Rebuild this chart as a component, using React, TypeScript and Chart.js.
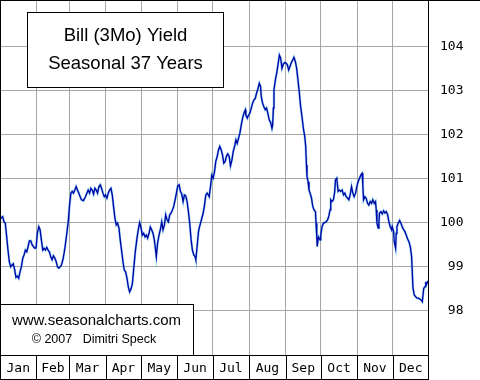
import React, { useEffect, useRef } from "react";
import { Chart, registerables } from "chart.js";

Chart.register(...registerables);

const monthLabels = ["Jan", "Feb", "Mar", "Apr", "May", "Jun", "Jul", "Aug", "Sep", "Oct", "Nov", "Dec"];
const monthStartDays = [0, 31, 59, 90, 120, 151, 181, 212, 243, 273, 304, 334, 365];
const yTickValues = [98, 99, 100, 101, 102, 103, 104];
const titleLines = ["Bill (3Mo) Yield", "Seasonal 37 Years"];
const creditLines = ["www.seasonalcharts.com", "\u00A9 2007   Dimitri Speck"];

const days = [
  0, 0.9, 2.3, 3.4, 4.5, 5.7, 6.8, 7.9, 9.1, 10.2, 11.3, 12.5, 13.6, 14.8, 15.9, 17.1, 18.2, 19.4, 20.5, 21.6,
  22.8, 23.9, 25.0, 26.2, 27.3, 28.4, 29.6, 30.7, 31.8, 33.0, 34.1, 35.2, 36.4, 37.5, 38.6, 39.8, 40.9, 42.0, 43.2, 44.3,
  45.5, 46.6, 47.8, 48.9, 50.1, 51.2, 52.3, 53.5, 54.6, 55.4,
  56.9, 58.2, 59.1, 60.3, 61.4, 62.5, 63.7, 64.8, 65.9, 67.1, 68.2, 69.3, 71.0, 72.7, 73.9, 75.0, 76.2, 77.3, 78.5, 79.6,
  80.8, 81.9, 83.0, 84.2, 85.3, 86.4, 87.6, 88.7, 89.8, 91.0, 92.1, 93.2, 94.4, 95.5, 96.6, 97.8, 98.9, 100.0, 101.2, 102.3,
  103.4, 104.6, 105.7, 106.9, 108.0, 109.2, 110.3, 111.5, 112.6, 113.7,
  115.1, 116.6, 117.9, 118.8, 120.0, 121.1, 122.2, 123.4, 124.5, 125.6, 126.8, 127.9, 129.0, 130.2, 131.3, 132.4, 133.0, 134.1, 135.3, 136.4,
  137.6, 138.7, 139.9, 141.0, 142.2, 143.3, 144.4, 145.6, 146.7, 147.8, 149.0, 150.1, 151.2, 152.4, 153.5, 154.6, 155.8, 156.9, 158.0, 159.2,
  160.3, 161.4, 162.6, 163.7, 164.9, 166.0, 166.6, 167.7, 168.9, 169.5,
  170.6, 171.7, 172.9, 174.0, 175.1, 176.3, 178.0, 179.1, 180.2, 181.4, 182.5, 183.6, 184.8, 185.9, 187.0, 188.2, 189.3, 190.4, 191.6, 192.7,
  193.8, 195.0, 196.1, 197.3, 198.4, 199.6, 200.7, 201.8, 203.0, 204.1, 205.3, 206.4, 207.5, 208.7, 209.2, 210.4, 211.5, 212.6, 213.8, 214.9,
  216.0, 217.2, 218.3, 219.4, 220.6, 221.7, 222.3, 223.4, 224.5, 225.7,
  226.8, 227.9, 229.1, 230.3, 231.4, 232.0, 232.6, 233.1, 234.3, 235.4, 236.5, 237.7, 238.8, 239.9, 241.1, 242.2, 243.3, 244.5, 245.6, 246.7,
  247.9, 249.0, 250.1, 251.3, 252.4, 253.5, 254.7, 255.8, 256.9, 258.1, 259.3, 260.1, 260.7, 261.2, 262.1, 262.9, 263.8, 265.0, 266.1, 267.2,
  268.4, 268.9, 269.5, 269.9, 270.9, 272.3, 272.9, 274.0, 275.2, 276.3,
  277.4, 278.6, 279.7, 280.8, 281.4, 282.5, 283.7, 284.8, 285.4, 286.5, 287.7, 288.8, 289.9, 291.1, 292.3, 293.4, 294.5, 295.7, 296.8, 297.9,
  299.1, 300.2, 301.3, 302.5, 303.6, 304.7, 305.9, 307.0, 308.1, 308.7, 309.3, 310.4, 311.5, 312.7, 313.8, 315.0, 316.1, 317.2, 318.4, 319.5,
  320.1, 320.7, 321.8, 322.4, 322.9, 324.1, 325.2, 326.4, 327.5, 328.6,
  329.8, 330.9, 332.0, 333.2, 333.7, 334.9, 335.4, 336.6, 337.1, 337.7, 338.8, 340.0, 341.1, 342.2, 343.4, 344.5, 345.6, 346.8, 347.9, 349.1,
  350.2, 350.8, 351.4, 352.5, 353.7, 354.8, 355.9, 357.1, 358.2, 359.3, 360.5, 361.6, 362.2, 362.7, 363.9, 365.0,
];

const yields = [
  100.06, 100.11, 100.14, 100.02, 99.99, 99.68, 99.38, 99.12, 99.0, 99.04, 99.07, 98.93, 98.76, 98.79, 98.74, 98.89, 99.0, 99.2, 99.27, 99.38,
  99.34, 99.46, 99.59, 99.59, 99.5, 99.46, 99.42, 99.43, 99.77, 99.91, 99.84, 99.61, 99.38, 99.42, 99.38, 99.44, 99.38, 99.34, 99.23, 99.16,
  99.25, 99.2, 99.12, 99.0, 98.97, 99.0, 99.04, 99.16, 99.32, 99.46,
  99.77, 100.06, 100.37, 100.67, 100.71, 100.67, 100.74, 100.82, 100.74, 100.67, 100.59, 100.52, 100.5, 100.59, 100.67, 100.74, 100.67, 100.78, 100.74, 100.65,
  100.78, 100.74, 100.67, 100.82, 100.86, 100.78, 100.67, 100.59, 100.63, 100.56, 100.67, 100.74, 100.78, 100.63, 100.37, 100.1, 99.95, 99.99, 99.88, 99.61,
  99.38, 99.12, 98.93, 98.88, 98.75, 98.54, 98.43, 98.5, 98.61, 98.93,
  99.34, 99.66, 99.88, 100.0, 99.88, 99.72, 99.76, 99.68, 99.72, 99.65, 99.76, 99.9, 99.84, 99.76, 99.61, 99.38, 99.23, 99.54, 99.72, 99.84,
  100.02, 99.84, 99.95, 100.18, 100.06, 100.02, 100.18, 100.22, 100.29, 100.37, 100.52, 100.67, 100.83, 100.86, 100.71, 100.65, 100.48, 100.63, 100.61, 100.48,
  100.25, 99.99, 99.61, 99.38, 99.27, 99.23, 99.16, 99.46, 99.8, 99.88,
  99.99, 100.1, 100.22, 100.4, 100.63, 100.67, 100.59, 100.82, 101.08, 101.01, 101.16, 101.39, 101.5, 101.65, 101.73, 101.65, 101.54, 101.35, 101.39, 101.51,
  101.56, 101.5, 101.29, 101.42, 101.61, 101.73, 101.88, 101.8, 101.92, 102.03, 102.22, 102.37, 102.48, 102.56, 102.44, 102.37, 102.44, 102.48, 102.6, 102.71,
  102.78, 102.82, 102.94, 103.03, 103.16, 103.09, 102.86, 102.71, 102.63, 102.56,
  102.6, 102.48, 102.33, 102.27, 102.14, 102.22, 102.6, 103.01, 103.24, 103.39, 103.58, 103.8, 103.73, 103.5, 103.6, 103.63, 103.62, 103.58, 103.46, 103.54,
  103.63, 103.69, 103.75, 103.65, 103.5, 103.24, 102.94, 102.63, 102.41, 102.14, 101.95, 101.73, 101.31, 101.05, 100.93, 100.74, 100.67, 100.56, 100.37, 100.29,
  100.25, 99.99, 99.68, 99.46, 99.68, 99.61, 99.72, 99.91, 99.99, 100.0,
  100.02, 100.06, 100.14, 100.29, 100.52, 100.48, 100.52, 100.71, 100.97, 101.01, 100.71, 100.74, 100.71, 100.74, 100.63, 100.67, 100.59, 100.56, 100.52, 100.63,
  100.82, 100.67, 100.59, 100.67, 100.82, 100.93, 101.01, 101.08, 101.12, 100.86, 100.52, 100.59, 100.56, 100.44, 100.4, 100.48, 100.44, 100.52, 100.44, 100.48,
  100.29, 99.99, 99.88, 100.02, 100.22, 100.25, 100.2, 100.27, 100.22, 100.25,
  100.18, 100.02, 99.91, 99.84, 99.91, 99.8, 99.57, 99.42, 99.76, 99.91, 99.99, 100.05, 99.99, 99.91, 99.84, 99.8, 99.72, 99.63, 99.57, 99.46,
  99.23, 98.85, 98.51, 98.36, 98.32, 98.29, 98.29, 98.27, 98.25, 98.21, 98.51, 98.55, 98.66, 98.59, 98.66, 98.7,
];

const MONO = '"DejaVu Sans Mono", monospace';
const SANS = '"Liberation Sans", Arial, sans-serif';

const framePlugin = {
  id: "frame",
  afterDraw(chart: any) {
    const { ctx, chartArea: a, scales } = chart;
    const xs = scales.x;
    const W = chart.width;
    const H = chart.height;
    ctx.save();

    // title box
    ctx.fillStyle = "#fff";
    ctx.fillRect(27.5, 12.5, 196, 75);
    ctx.strokeStyle = "#000";
    ctx.lineWidth = 1;
    ctx.strokeRect(27.5, 12.5, 196, 75);
    ctx.fillStyle = "#000";
    ctx.textAlign = "center";
    ctx.textBaseline = "alphabetic";
    ctx.font = `18.5px ${SANS}`;
    ctx.fillText(titleLines[0], 125.5, 41);
    ctx.fillText(titleLines[1], 125.5, 68.5);

    // credit box
    ctx.fillStyle = "#fff";
    ctx.fillRect(0.5, 304.5, 193, 51);
    ctx.strokeRect(0.5, 304.5, 193, 51);
    ctx.fillStyle = "#000";
    ctx.font = `15px ${SANS}`;
    ctx.fillText(creditLines[0], 96.5, 324.5);
    ctx.font = `12.5px ${SANS}`;
    ctx.fillText(creditLines[1], 94, 342.5);

    // frame lines
    const r = Math.round(a.right) - 0.5;
    const b = Math.round(a.bottom) + 0.5;
    ctx.beginPath();
    ctx.moveTo(0, 0.5);
    ctx.lineTo(W, 0.5);
    ctx.moveTo(0.5, 0);
    ctx.lineTo(0.5, H);
    ctx.moveTo(r, 0);
    ctx.lineTo(r, H);
    ctx.moveTo(0, b);
    ctx.lineTo(r, b);
    ctx.moveTo(0, H - 0.5);
    ctx.lineTo(r, H - 0.5);
    for (const d of monthStartDays.slice(1, -1)) {
      const px = Math.round(xs.getPixelForValue(d)) + 0.5;
      ctx.moveTo(px, b);
      ctx.lineTo(px, H);
    }
    ctx.stroke();

    // month labels
    ctx.font = `13px ${MONO}`;
    ctx.textAlign = "center";
    ctx.textBaseline = "middle";
    for (let i = 0; i < monthLabels.length; i++) {
      const cx = xs.getPixelForValue((monthStartDays[i] + monthStartDays[i + 1]) / 2);
      ctx.fillText(monthLabels[i], cx, (b + H) / 2 + 1);
    }
    ctx.restore();
  },
};

export default function App() {
  const ref = useRef<HTMLCanvasElement | null>(null);

  useEffect(() => {
    if (!ref.current) return;
    const points = days.map((d, i) => ({ x: d, y: yields[i] }));
    const chart = new Chart(ref.current, {
      type: "line",
      data: {
        datasets: [
          {
            data: points,
            borderColor: "#0000a8",
            borderWidth: 1.3,
            pointRadius: 0,
            tension: 0,
            fill: false,
          },
          {
            data: points,
            borderColor: "rgba(40,170,220,0.5)",
            borderWidth: 2.4,
            pointRadius: 0,
            tension: 0,
            fill: false,
          },
        ],
      },
      options: {
        animation: false,
        responsive: false,
        devicePixelRatio: 1,
        layout: { padding: 0 },
        plugins: { legend: { display: false }, tooltip: { enabled: false } },
        scales: {
          x: {
            type: "linear",
            min: 0,
            max: 365,
            afterBuildTicks: (s: any) => {
              s.ticks = monthStartDays.slice(1, -1).map((v) => ({ value: v }));
            },
            afterFit: (s: any) => {
              s.height = 25;
              s.paddingLeft = 0;
              s.paddingRight = 0;
            },
            grid: { color: "#a6a6a6", drawTicks: false, lineWidth: 1 },
            border: { display: false },
            ticks: { display: false },
          },
          y: {
            position: "right",
            min: 97,
            max: 105.05,
            afterBuildTicks: (s: any) => {
              s.ticks = yTickValues.map((v) => ({ value: v }));
            },
            afterFit: (s: any) => {
              s.width = 51;
              s.paddingTop = 0;
              s.paddingBottom = 0;
            },
            grid: { color: "#a6a6a6", drawTicks: false, lineWidth: 1 },
            border: { display: false },
            ticks: {
              padding: 11,
              crossAlign: "near",
              color: "#000",
              font: { family: MONO, size: 13 },
              callback: (v: any) => String(v).padStart(3, " "),
            },
          },
        },
      },
      plugins: [framePlugin],
    });
    return () => chart.destroy();
  }, []);

  return (
    <div style={{ position: "fixed", left: 0, top: 0, width: 480, height: 380, background: "#fff" }}>
      <canvas ref={ref} width={480} height={380} style={{ display: "block" }} />
    </div>
  );
}
